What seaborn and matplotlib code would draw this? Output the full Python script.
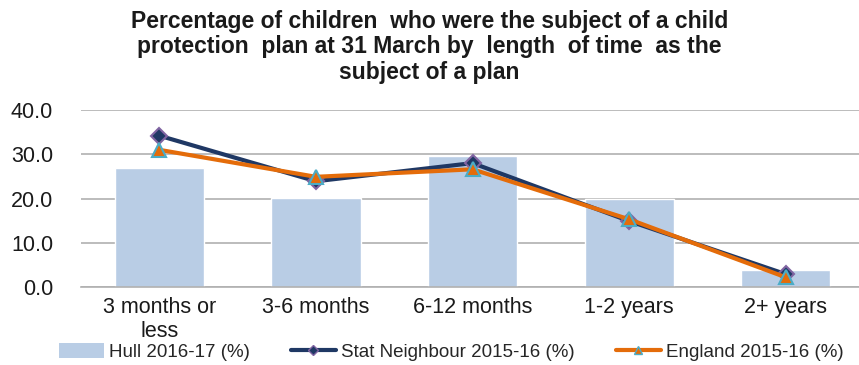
import matplotlib
matplotlib.use("Agg")
import matplotlib.pyplot as plt
from matplotlib.lines import Line2D
from matplotlib.patches import Patch
import pandas as pd
import seaborn as sns

# Length of time as the subject of a child protection plan
categories = ["3 months or\nless", "3-6 months", "6-12 months", "1-2 years", "2+ years"]
hull_2016_17 = [26.8, 20.1, 29.6, 20.0, 3.8]
stat_neighbour_2015_16 = [34.2, 23.9, 28.0, 14.9, 2.9]
england_2015_16 = [31.0, 24.9, 26.6, 15.3, 2.2]
y_ticks = [0, 10, 20, 30, 40]

sns.set_theme(style="white")
plt.rcParams["font.family"] = ["Liberation Sans", "DejaVu Sans"]

df = pd.DataFrame({
    "period": categories,
    "hull": hull_2016_17,
    "stat": stat_neighbour_2015_16,
    "england": england_2015_16,
})

BAR = "#B9CDE5"
NAVY = "#1F3864"
PURPLE = "#8064A2"
ORANGE = "#E46C0A"
CYAN = "#4BACC6"
GRID = "#B0B0B0"

fig = plt.figure(figsize=(8.59, 3.65), dpi=100)
ax = fig.add_axes([0.0943, 0.2137, 0.9116, 0.4849])

sns.barplot(data=df, x="period", y="hull", color=BAR, width=0.57,
            saturation=1, ax=ax, zorder=2)
sns.pointplot(data=df, x="period", y="stat", color=NAVY, ax=ax,
              marker="D", markersize=8, markeredgecolor=PURPLE,
              markeredgewidth=1.5, linewidth=3)
sns.pointplot(data=df, x="period", y="england", color=ORANGE, ax=ax,
              marker="^", markersize=10, markeredgecolor=CYAN,
              markeredgewidth=1.5, linewidth=3)

ax.set_xlim(-0.5, 4.5)
ax.set_ylim(0, 40)
ax.set_yticks(y_ticks)
ax.set_yticklabels([f"{v:.1f}" for v in y_ticks], fontsize=15.5, color="#1a1a1a")
ax.tick_params(axis="y", length=0, pad=20)
ax.tick_params(axis="x", length=0, pad=7, labelsize=15.5, labelcolor="#1a1a1a")
ax.set_xlabel("")
ax.set_ylabel("")
ax.yaxis.grid(True, color=GRID, linewidth=1.2, zorder=0)
ax.set_axisbelow(True)
for side in ("left", "right", "top"):
    ax.spines[side].set_visible(False)
ax.spines["bottom"].set_color(GRID)
ax.spines["bottom"].set_linewidth(1.2)

fig.text(0.5, 0.972,
         "Percentage of children  who were the subject of a child\n"
         "protection  plan at 31 March by  length  of time  as the\n"
         "subject of a plan",
         ha="center", va="top", fontsize=16.5, fontweight="bold",
         linespacing=1.12, color="#1a1a1a")

handles = [
    Patch(facecolor=BAR, edgecolor="none"),
    Line2D([0], [0], color=NAVY, linewidth=3, marker="D", markersize=5,
           markerfacecolor=NAVY, markeredgecolor=PURPLE),
    Line2D([0], [0], color=ORANGE, linewidth=3, marker="^", markersize=6,
           markerfacecolor=ORANGE, markeredgecolor=CYAN),
]
labels = ["Hull 2016-17 (%)", "Stat Neighbour 2015-16 (%)", "England 2015-16 (%)"]
fig.legend(handles, labels, loc="center", bbox_to_anchor=(0.525, 0.036),
           ncol=3, frameon=False, fontsize=13.5, handlelength=2.4,
           handletextpad=0.27, columnspacing=2.2, handleheight=0.9,
           borderpad=0)

fig.savefig("out.png", dpi=100)
